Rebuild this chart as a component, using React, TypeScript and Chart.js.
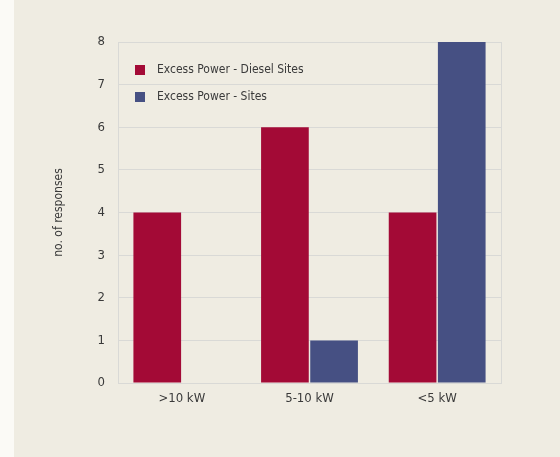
import React, { useEffect, useRef } from "react";
import { Chart, registerables } from "chart.js";

Chart.register(...registerables);

const categories = [">10 kW", "5-10 kW", "<5 kW"];
const dieselSites = [4, 6, 4];
const sites = [0, 1, 8];
const seriesNames = ["Excess Power - Diesel Sites", "Excess Power - Sites"];
const yTicks = [0, 1, 2, 3, 4, 5, 6, 7, 8];

const RED = "#a30a36";
const BLUE = "#465083";
const GRID = "#d9d9d6";
const TEXT = "#3a3a3a";
const FONT = "'Liberation Sans Narrow', 'DejaVu Sans Condensed', sans-serif";

// Frame around the plotting area plus an in-plot legend
const framePlugin = {
  id: "frameAndLegend",
  afterDraw(chart: any) {
    const { ctx, chartArea } = chart;
    ctx.save();
    ctx.strokeStyle = GRID;
    ctx.lineWidth = 1;
    ctx.beginPath();
    const r = Math.round(chartArea.right) + 0.5;
    ctx.moveTo(r, chartArea.top);
    ctx.lineTo(r, chartArea.bottom);
    ctx.stroke();

    ctx.font = `12px ${FONT}`;
    ctx.textBaseline = "middle";
    chart.data.datasets.forEach((ds: any, i: number) => {
      const y = chartArea.top + 28 + i * 27;
      const x = chartArea.left + 17;
      ctx.fillStyle = ds.backgroundColor;
      ctx.fillRect(x, y - 5, 10, 10);
      ctx.fillStyle = TEXT;
      ctx.fillText(ds.label, x + 22, y);
    });
    ctx.restore();
  },
};

export default function App() {
  const ref = useRef<HTMLCanvasElement>(null);

  useEffect(() => {
    if (!ref.current) return;
    const chart = new Chart(ref.current, {
      type: "bar",
      data: {
        labels: categories,
        datasets: [
          { label: seriesNames[0], data: dieselSites, backgroundColor: RED },
          { label: seriesNames[1], data: sites, backgroundColor: BLUE },
        ],
      },
      options: {
        animation: false,
        responsive: false,
        maintainAspectRatio: false,
        layout: { padding: { left: 0, right: 59, top: 42, bottom: 0 } },
        datasets: {
          bar: { categoryPercentage: 0.77, barPercentage: 0.97 },
        },
        plugins: {
          legend: { display: false },
          tooltip: { enabled: false },
        },
        scales: {
          x: {
            grid: { display: false },
            border: { color: GRID },
            ticks: { color: TEXT, font: { family: FONT, size: 13 }, padding: 0 },
            afterFit(s: any) {
              s.height = 74;
            },
          },
          y: {
            min: 0,
            max: 8,
            afterBuildTicks(s: any) {
              s.ticks = yTicks.map((v) => ({ value: v }));
            },
            grid: { color: GRID, drawTicks: false },
            border: { color: GRID },
            ticks: { color: TEXT, font: { family: FONT, size: 13 }, padding: 13 },
            title: {
              display: true,
              text: "no. of responses",
              color: TEXT,
              font: { family: FONT, size: 12 },
              padding: { top: 52, bottom: 0 },
            },
            afterFit(s: any) {
              s.width = 118;
            },
          },
        },
      },
      plugins: [framePlugin],
    });
    return () => chart.destroy();
  }, []);

  return (
    <div
      style={{
        position: "fixed",
        left: 0,
        top: 0,
        width: 560,
        height: 457,
        background: "linear-gradient(to right, #fbfaf6 0px, #fbfaf6 14px, #efece2 14px)",
      }}
    >
      <canvas ref={ref} width={560} height={457} style={{ display: "block" }} />
    </div>
  );
}
